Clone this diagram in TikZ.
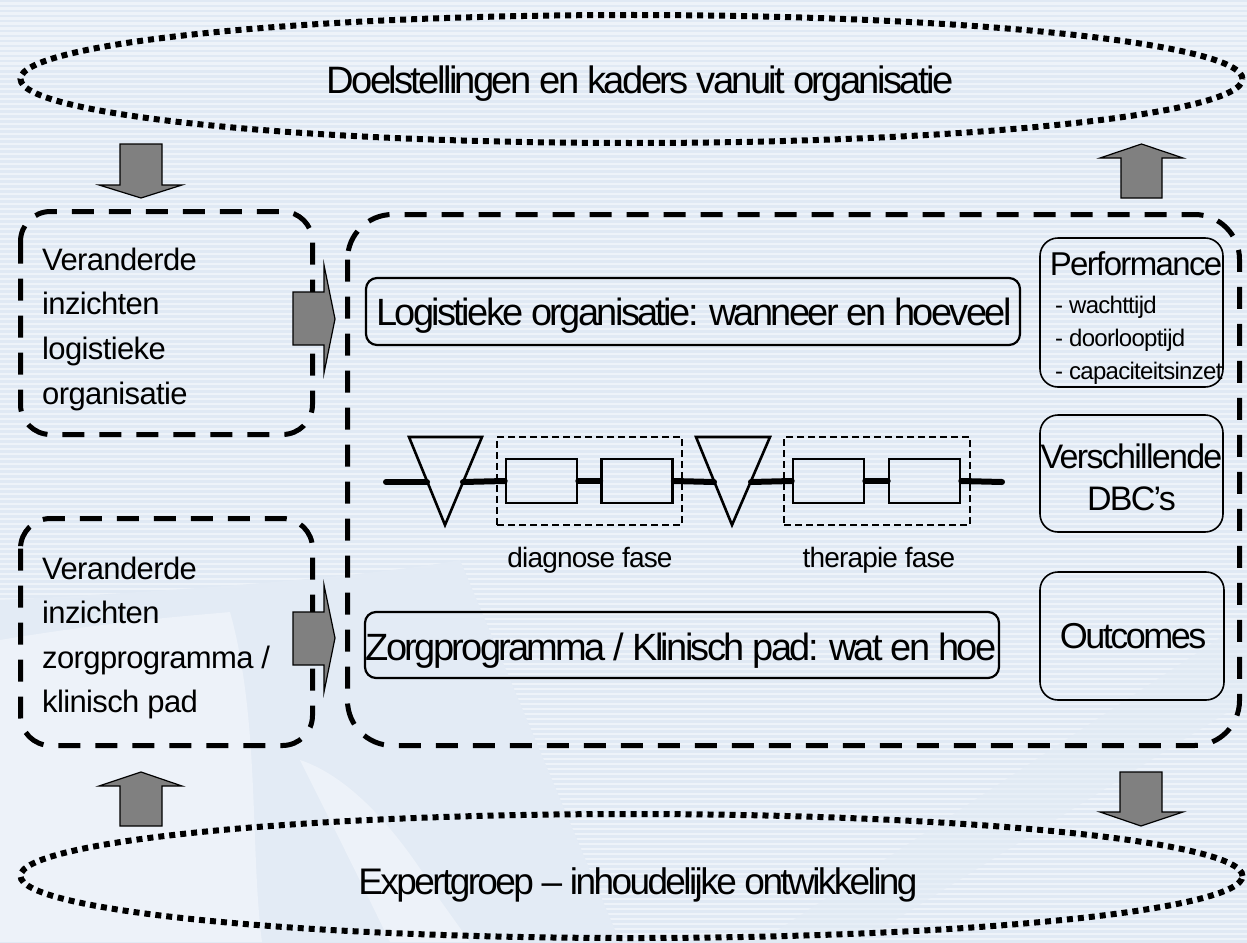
\documentclass[tikz,border=0pt]{standalone}
\usepackage{fontspec}
\setmainfont{Liberation Sans}
\newfontfamily\fA{Liberation Sans}[LetterSpace=-7]
\newfontfamily\fB{Liberation Sans}[LetterSpace=-5]
\newfontfamily\fC{Liberation Sans}[LetterSpace=-3]
\newfontfamily\fD{Liberation Sans}[LetterSpace=-2]
\usetikzlibrary{shapes.geometric}
\definecolor{bgbase}{HTML}{EEF3F9}
\definecolor{bgstripe}{HTML}{E0E9F4}
\definecolor{bgsolid}{HTML}{E3EBF5}
\definecolor{bglight}{HTML}{F0F4FA}
\definecolor{arrowgray}{HTML}{808080}
\begin{document}
\begin{tikzpicture}[x=1pt,y=-1pt,
  dotell/.style={draw=black,line width=6pt,dash pattern=on 6pt off 5pt,ellipse,inner sep=0pt},
  bigdash/.style={draw=black,line width=5pt,dash pattern=on 22pt off 15pt},
  garrow/.style={fill=arrowgray,draw=black,line width=1.2pt,line join=miter},
  rbox/.style={draw=black,line width=2.2pt,rounded corners=11pt,rectangle,inner sep=0pt},
  sbox/.style={draw=black,line width=1.6pt,rounded corners=18pt,rectangle,inner sep=0pt},
  procrect/.style={draw=black,line width=2.6pt,rectangle,inner sep=0pt,minimum width=71pt,minimum height=44pt},
  procline/.style={line width=6pt,line cap=round},
  phasebox/.style={draw=black,line width=2.4pt,dash pattern=on 7pt off 4pt,rectangle,inner sep=0pt},
  tri/.style={draw=black,line width=2.6pt,line join=miter},
  bigtxt/.style={font=\fA\fontsize{38}{38}\selectfont,inner sep=0pt,anchor=base},
  lefttxt/.style={font=\fD\fontsize{31}{31}\selectfont,inner sep=0pt,anchor=base west},
  phasetxt/.style={font=\fC\fontsize{28}{28}\selectfont,inner sep=0pt,anchor=base},
  smalltxt/.style={font=\fC\fontsize{24}{24}\selectfont,inner sep=0pt,anchor=base west}
]
\useasboundingbox (0,0) rectangle (1247,942);
% background
\fill[bgbase] (0,0) rectangle (1247,942);
\foreach \yy in {0,5,...,940} {\fill[bgstripe] (0,\yy) rectangle (1247,\yy+2.5);}
\fill[bgsolid] (0,600) .. controls (200,590) and (380,575) .. (460,560) -- (620,942) -- (0,942) -- cycle;
\fill[bglight,opacity=0.8] (0,640) .. controls (120,620) and (200,615) .. (230,612) .. controls (260,720) and (250,850) .. (262,942) -- (0,942) -- cycle;
\fill[bglight,opacity=0.8] (300,760) .. controls (330,770) and (380,800) .. (440,900) -- (470,942) -- (390,942) .. controls (360,880) and (330,820) .. (300,760) -- cycle;
\fill[bgsolid,opacity=0.6] (760,942) -- (1247,620) -- (1247,700) -- (860,942) -- cycle;

% ellipses
\node[dotell,minimum width=1222pt,minimum height=128pt] (topell) at (631.5,79) {};
\node[bigtxt,font=\fA\fontsize{38.2}{38.2}\selectfont] (toptxt) at (640,93) {Doelstellingen en kaders vanuit organisatie};
\node[dotell,minimum width=1222pt,minimum height=124pt] (botell) at (631.5,876) {};
\node[bigtxt,font=\fA\fontsize{37}{37}\selectfont] (bottxt) at (638,894) {Expertgroep – inhoudelijke ontwikkeling};

% left dashed boxes
\draw[bigdash,rounded corners=30pt] (20.5,211.5) rectangle (312.5,434.5);
\draw[bigdash,rounded corners=30pt] (20.5,518.5) rectangle (312.5,745.5);
\node[lefttxt] (l1a) at (42,270) {Veranderde};
\node[lefttxt] (l1b) at (42,314) {inzichten};
\node[lefttxt] (l1c) at (42,359) {logistieke};
\node[lefttxt] (l1d) at (42,404) {organisatie};
\node[lefttxt] (l2a) at (42,579) {Veranderde};
\node[lefttxt] (l2b) at (42,623) {inzichten};
\node[lefttxt] (l2c) at (42,668) {zorgprogramma /};
\node[lefttxt] (l2d) at (42,712) {klinisch pad};

% big dashed box
\draw[bigdash,rounded corners=45pt] (347.5,214.5) rectangle (1239.5,745.5);

% main boxes
\node[rbox,minimum width=654pt,minimum height=67pt] (logbox) at (693,311.5) {};
\node[bigtxt] (logtxt) at (694,325) {Logistieke organisatie: wanneer en hoeveel};
\node[rbox,minimum width=634pt,minimum height=66pt] (zorgbox) at (682,645) {};
\node[bigtxt] (zorgtxt) at (681,660) {Zorgprogramma / Klinisch pad: wat en hoe};

% right boxes
\node[sbox,minimum width=183pt,minimum height=149pt] (perfbox) at (1131.5,312.5) {};
\node[inner sep=0pt,anchor=base,font=\fB\fontsize{33}{33}\selectfont] (perftxt) at (1136,275) {Performance};
\node[smalltxt] (p1) at (1055,313) {- wachttijd};
\node[smalltxt] (p2) at (1055,346) {- doorlooptijd};
\node[smalltxt] (p3) at (1055,379) {- capaciteitsinzet};
\node[sbox,minimum width=183pt,minimum height=117pt] (dbcbox) at (1131.5,473.5) {};
\node[inner sep=0pt,anchor=base,font=\fB\fontsize{34}{34}\selectfont] (dbc1) at (1131.5,468) {Verschillende};
\node[inner sep=0pt,anchor=base,font=\fB\fontsize{34}{34}\selectfont] (dbc2) at (1131.5,510) {DBC’s};
\node[sbox,minimum width=184pt,minimum height=128pt] (outbox) at (1132,636) {};
\node[inner sep=0pt,anchor=base,font=\fA\fontsize{36}{36}\selectfont] (outtxt) at (1133,648) {Outcomes};

% process line
\node[phasebox,minimum width=185pt,minimum height=88pt] (diagbox) at (589.5,481) {};
\node[phasebox,minimum width=186pt,minimum height=88pt] (therbox) at (877,481) {};
\node[procrect] (r1) at (541.5,481) {};
\node[procrect] (r2) at (637,481) {};
\node[procrect] (r3) at (828.5,481) {};
\node[procrect] (r4) at (924.5,481) {};
\coordinate (lstart) at (386,482);
\coordinate (lend) at (1002,482);
\coordinate (t1l) at (427,482);
\coordinate (t1r) at (463,482);
\coordinate (t2l) at (714,482);
\coordinate (t2r) at (751,482);
\draw[tri] (409,437) -- (482,437) -- (445,525) -- cycle;
\draw[tri] (696,437) -- (770,437) -- (732,525) -- cycle;
\draw[procline] (lstart) -- (t1l);
\draw[procline] (t1r) -- (r1.west);
\draw[procline] (r1.east) -- (r2.west);
\draw[procline] (r2.east) -- (t2l);
\draw[procline] (t2r) -- (r3.west);
\draw[procline] (r3.east) -- (r4.west);
\draw[procline] (r4.east) -- (lend);
\node[phasetxt] (diagtxt) at (590,567) {diagnose fase};
\node[phasetxt] (thertxt) at (879,567) {therapie fase};

% block arrows
\draw[garrow] (120,144) -- (162,144) -- (162,185) -- (182,185) -- (141,198) -- (99,185) -- (120,185) -- cycle;
\draw[garrow] (1121,198) -- (1162,198) -- (1162,158) -- (1183,158) -- (1141.5,144) -- (1100,158) -- (1121,158) -- cycle;
\draw[garrow] (120,826) -- (162,826) -- (162,786) -- (182,786) -- (141,772) -- (99,786) -- (120,786) -- cycle;
\draw[garrow] (1120,772) -- (1162,772) -- (1162,812) -- (1183,812) -- (1141,826) -- (1100,812) -- (1120,812) -- cycle;
\draw[garrow] (293,292) -- (324,292) -- (324,265) -- (335,319) -- (324,373) -- (324,345) -- (293,345) -- cycle;
\draw[garrow] (293,612) -- (324,612) -- (324,585) -- (335,638) -- (324,692) -- (324,665) -- (293,665) -- cycle;
\end{tikzpicture}
\end{document}
